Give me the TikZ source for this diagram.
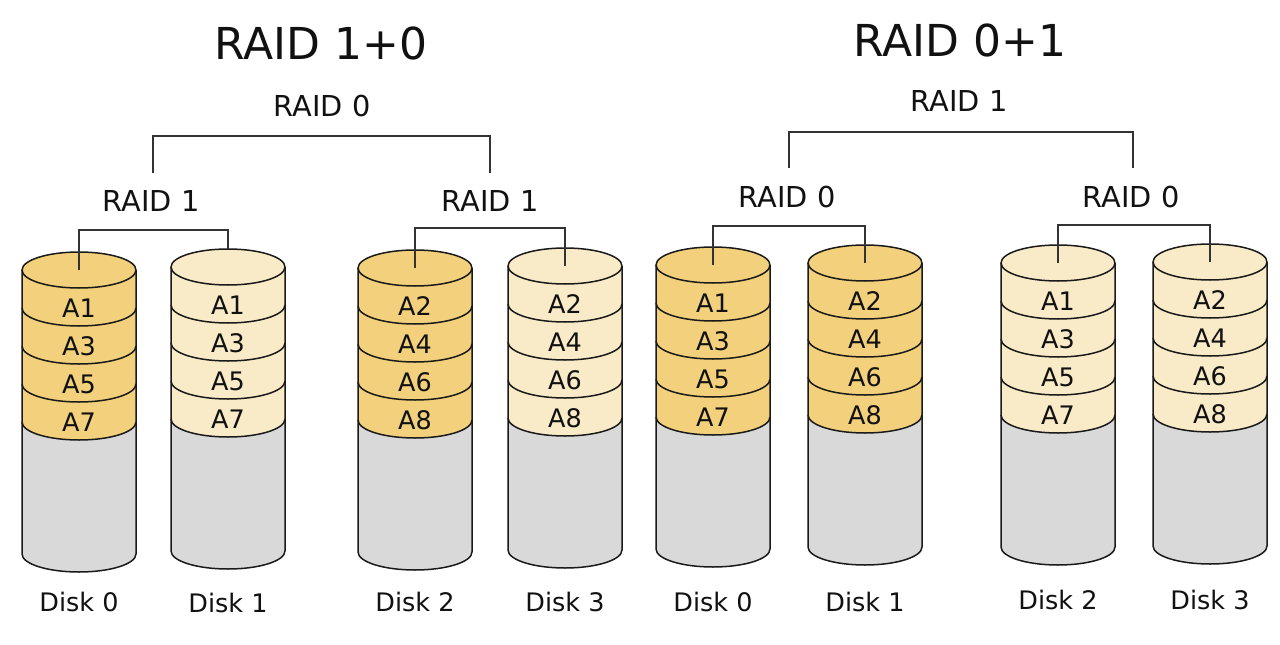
\documentclass[tikz,border=0pt]{standalone}
\usepackage{fontspec}
\setmainfont{DejaVu Sans}
\definecolor{gold}{HTML}{F2D07C}
\definecolor{cream}{HTML}{F9EAC8}
\definecolor{diskgray}{HTML}{D9D9D9}
\definecolor{outline}{HTML}{1A1A1A}
\definecolor{connc}{HTML}{333333}
\definecolor{txt}{HTML}{111111}
\tikzset{
  diskline/.style={draw=outline, line width=1.5pt, line join=round},
  conn/.style={draw=connc, line width=1.6pt},
  title/.style={inner sep=0pt, font=\fontsize{44}{50}\selectfont, text=txt},
  raidlbl/.style={inner sep=0pt, font=\fontsize{28.8}{32}\selectfont, text=txt},
  blocklbl/.style={inner sep=0pt, font=\fontsize{25.5}{28}\selectfont, text=txt},
  disklbl/.style={inner sep=0pt, font=\fontsize{25.5}{28}\selectfont, text=txt},
}
% #1 name, #2 cx, #3 top y (px), #4 fill, #5 labels, #6 disk label, #7 label y
\newcommand\drawdisk[7]{%
  \begin{scope}[shift={(#2,-#3)}]
    \filldraw[diskline, fill=diskgray] (-57,-152) -- (-57,-284)
      arc[start angle=180, end angle=360, x radius=57, y radius=18] -- (57,-152);
    \foreach \k in {3,2,1,0}{%
      \filldraw[diskline, fill=#4] (-57,-38*\k) -- (-57,-38*\k-38)
        arc[start angle=180, end angle=360, x radius=57, y radius=18] -- (57,-38*\k);
    }
    \filldraw[diskline, fill=#4] (0,0) ellipse[x radius=57, y radius=18];
    \foreach \t [count=\k from 0] in {#5}{%
      \node[blocklbl] (#1-a\k) at (0,-38*\k-38) {\t};
    }
    \coordinate (#1) at (0,0);
    \coordinate (#1-top) at (0,18);
  \end{scope}
  \node[disklbl] (#1-lbl) at (#2,-#7) {#6};
}
\begin{document}
\begin{tikzpicture}[x=1pt, y=1pt]
  \useasboundingbox[fill=white] (0,0) rectangle (1280,-645);

  % titles
  \node[title] (t1) at (321,-43) {RAID 1+0};
  \node[title] (t2) at (960,-40) {RAID 0+1};

  % RAID 1+0
  \node[raidlbl] (l-r0) at (322,-106) {RAID 0};
  \node[raidlbl] (l-r1a) at (151,-201) {RAID 1};
  \node[raidlbl] (l-r1b) at (490,-201) {RAID 1};
  \coordinate (l-ba) at (153,-173);
  \coordinate (l-bb) at (490,-173);
  \draw[conn] (l-ba) -- ++(0,37) -| (l-bb);

  \drawdisk{LD0}{79}{270}{gold}{A1,A3,A5,A7}{Disk 0}{602}
  \drawdisk{LD1}{228}{267}{cream}{A1,A3,A5,A7}{Disk 1}{603}
  \drawdisk{LD2}{415}{268}{gold}{A2,A4,A6,A8}{Disk 2}{602}
  \drawdisk{LD3}{565}{266}{cream}{A2,A4,A6,A8}{Disk 3}{602}
  \draw[conn] (LD0) -- ++(0,40) -| (LD1-top);
  \draw[conn] (LD2) -- ++(0,40) -| (LD3);

  % RAID 0+1
  \node[raidlbl] (r-r1) at (959,-101) {RAID 1};
  \node[raidlbl] (r-r0a) at (787,-197) {RAID 0};
  \node[raidlbl] (r-r0b) at (1131,-197) {RAID 0};
  \coordinate (r-ba) at (789,-168);
  \coordinate (r-bb) at (1133,-168);
  \draw[conn] (r-ba) -- ++(0,36) -| (r-bb);

  \drawdisk{RD0}{713}{265}{gold}{A1,A3,A5,A7}{Disk 0}{602}
  \drawdisk{RD1}{865}{263}{gold}{A2,A4,A6,A8}{Disk 1}{602}
  \drawdisk{RD2}{1058}{263}{cream}{A1,A3,A5,A7}{Disk 2}{600}
  \drawdisk{RD3}{1210}{262}{cream}{A2,A4,A6,A8}{Disk 3}{600}
  \draw[conn] (RD0) -- ++(0,39) -| (RD1);
  \draw[conn] (RD2) -- ++(0,38) -| (RD3);
\end{tikzpicture}
\end{document}
